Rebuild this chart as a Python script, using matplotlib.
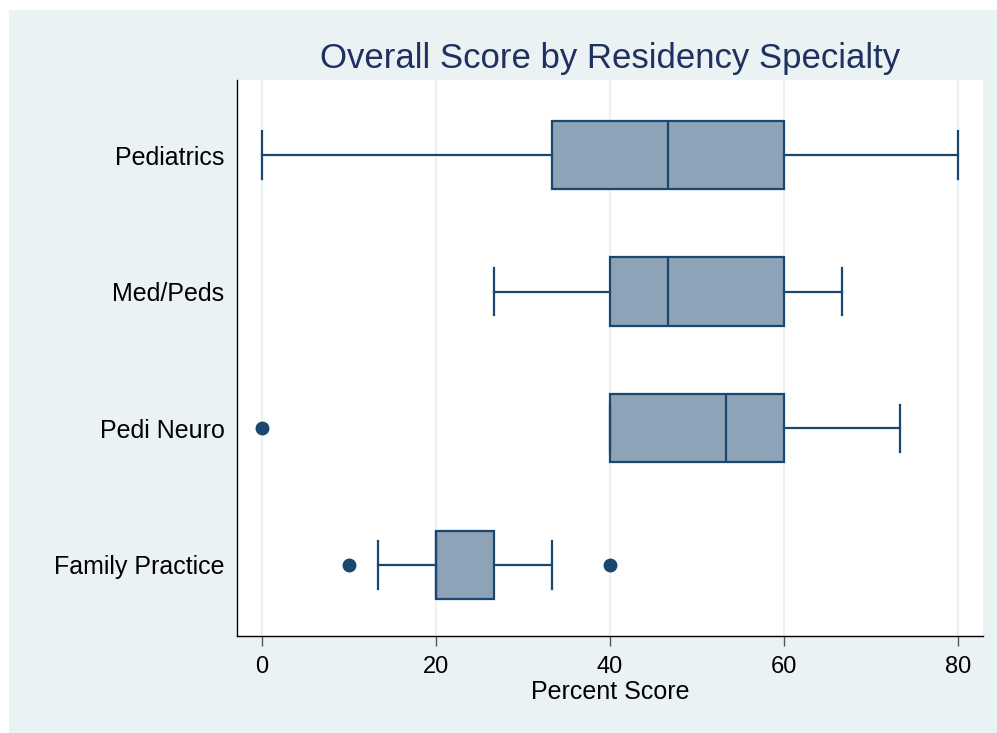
import numpy as np
import matplotlib.pyplot as plt
from matplotlib.patches import Rectangle

plt.rcParams['font.family'] = ['Liberation Sans', 'DejaVu Sans']

# ---- datos ----
specialties = ["Pediatrics", "Med/Peds", "Pedi Neuro", "Family Practice"]
q1 = [33.3, 40.0, 40.0, 20.0]
med = [46.7, 46.7, 53.3, 20.0]
q3 = [60.0, 60.0, 60.0, 26.7]
whislo = [0.0, 26.7, 40.0, 13.3]
whishi = [80.0, 66.7, 73.3, 33.3]
fliers = [[], [], [0.0], [10.0, 40.0]]
xticks = [0, 20, 40, 60, 80]

navy = "#1a476f"
fill = "#8ea3b8"
bg = "#eaf2f3"

fig = plt.figure(figsize=(9.97, 7.33), dpi=100)
fig.patch.set_facecolor("white")
# fondo exterior estilo Stata
fig.patches.append(Rectangle((9 / 997, 0), 1, 1 - 10 / 733, transform=fig.transFigure,
                             facecolor=bg, edgecolor="none", zorder=-10))

ax = fig.add_axes([237 / 997, 97 / 733, 746 / 997, 556 / 733])
ax.set_facecolor("white")

stats = []
for i in range(len(specialties)):
    stats.append({
        "label": specialties[i],
        "q1": q1[i], "med": med[i], "q3": q3[i],
        "whislo": whislo[i], "whishi": whishi[i],
        "fliers": fliers[i],
    })

positions = np.arange(len(specialties), 0, -1)
ax.bxp(stats, positions=positions, orientation="horizontal", widths=0.5,
       capwidths=0.348, patch_artist=True, showfliers=True,
       boxprops=dict(facecolor=fill, edgecolor=navy, linewidth=1.6),
       medianprops=dict(color=navy, linewidth=1.6),
       whiskerprops=dict(color=navy, linewidth=1.6),
       capprops=dict(color=navy, linewidth=1.6),
       flierprops=dict(marker="o", markersize=9, markerfacecolor=navy,
                       markeredgecolor=navy))

ax.set_xlim(-2.87, 82.87)
ax.set_ylim(0.48, 4.549)
ax.set_xticks(xticks)
ax.set_xticklabels([str(t) for t in xticks])
ax.set_yticks(positions)
ax.set_yticklabels(specialties)

ax.grid(axis="x", color=bg, linewidth=1.6)
ax.set_axisbelow(True)

for s in ["top", "right"]:
    ax.spines[s].set_visible(False)
for s in ["left", "bottom"]:
    ax.spines[s].set_color("black")
    ax.spines[s].set_linewidth(1.0)

ax.tick_params(axis="x", length=7.5, width=1.0, color="#555555", pad=7,
               labelsize=17)
ax.tick_params(axis="y", length=0, pad=9, labelsize=18)

ax.set_xlabel("Percent Score", fontsize=18, labelpad=1)

fig.text(610 / 997, 1 - 68 / 733, "Overall Score by Residency Specialty",
         ha="center", va="baseline", fontsize=25, color="#1e3160")

fig.savefig("out.png", dpi=100)
